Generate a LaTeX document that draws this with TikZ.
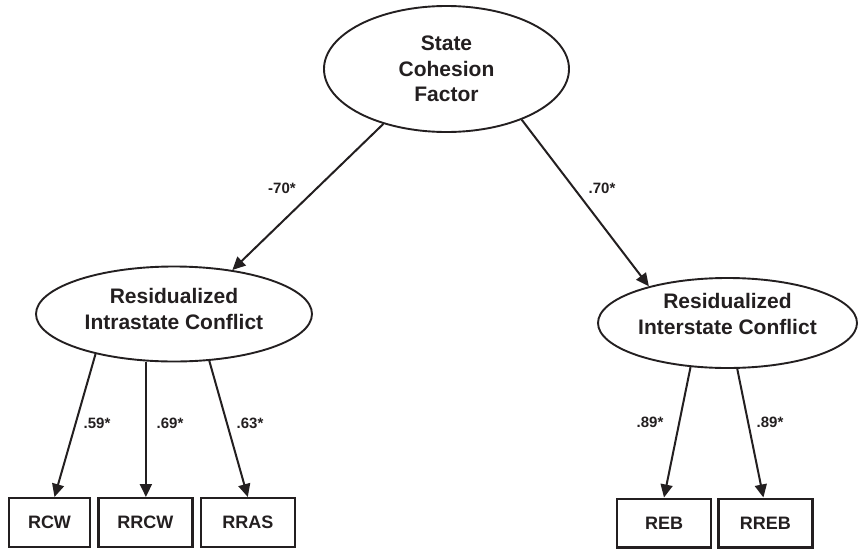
\documentclass[tikz,border=0pt]{standalone}
\usepackage{fontspec}
\setmainfont{Liberation Sans}
\usepackage{xcolor}
\usetikzlibrary{shapes,arrows.meta,positioning,calc}
\definecolor{ink}{HTML}{231F20}

\begin{document}
\begin{tikzpicture}[x=1pt,y=-1pt,
    latent/.style={ellipse,draw=ink,line width=1.9pt,inner sep=0pt},
    heading/.style={align=center,text=ink,font=\fontsize{21}{25.5}\selectfont\bfseries},
    indicator/.style={rectangle,draw=ink,line width=2.4pt,minimum width=94pt,minimum height=48.6pt,
        text=ink,font=\fontsize{18}{21}\selectfont\bfseries},
    load/.style={draw=ink,line width=2pt,-{Triangle[length=13pt,width=12pt]}},
    coef/.style={text=ink,font=\fontsize{15}{18}\selectfont\bfseries}]
    \useasboundingbox (0,0) rectangle (860,549);

    % Latent factors
    \node[latent,minimum width=245pt,minimum height=126pt] (cohesion) at (446.5,69) {};
    \node[heading] (cohesiontxt) at (cohesion) {State\\Cohesion\\Factor};
    \node[latent,minimum width=276pt,minimum height=95pt] (intra) at (174,314) {};
    \node[heading,yshift=5pt] (intratxt) at (intra) {Residualized\\Intrastate Conflict};
    \node[latent,minimum width=259pt,minimum height=90pt] (inter) at (727.5,323) {};
    \node[heading,yshift=9pt] (intertxt) at (inter) {Residualized\\Interstate Conflict};

    % Observed indicators
    \node[indicator,minimum width=81pt] (rcw) at (49.5,522.5) {RCW};
    \node[indicator,right=6pt of rcw] (rrcw) {RRCW};
    \node[indicator,right=6pt of rrcw] (rras) {RRAS};
    \node[indicator] (reb) at (664,523) {REB};
    \node[indicator,right=5pt of reb] (rreb) {RREB};

    % Paths
    \draw[load] (cohesion.221) -- (intra.37);
    \draw[load] (cohesion.326) -- (inter.155);
    \draw[load] (intra.207) -- ([xshift=5pt]rcw.north);
    \draw[load] ([xshift=0.5pt]rrcw.north |- intra.south) -- ([xshift=0.5pt]rrcw.north);
    \draw[load] (intra.-53) -- (rras.north);
    \draw[load] (inter.230) -- (reb.north);
    \draw[load] (inter.282) -- ([xshift=-2pt]rreb.north);

    % Loadings
    \node[coef] (c1) at (282,188) {-70*};
    \node[coef] (c2) at (602,188) {.70*};
    \node[coef] (c3) at (97,423) {.59*};
    \node[coef] (c4) at (170,423) {.69*};
    \node[coef] (c5) at (250,423) {.63*};
    \node[coef] (c6) at (650,422) {.89*};
    \node[coef] (c7) at (770,422) {.89*};
\end{tikzpicture}
\end{document}
